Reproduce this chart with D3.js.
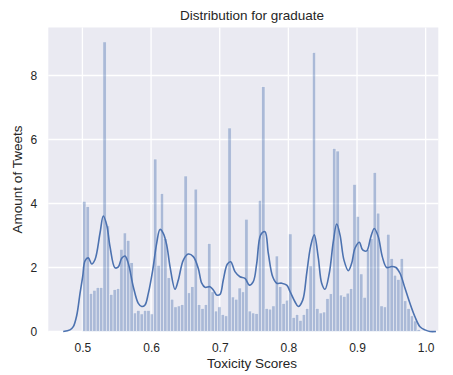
<!DOCTYPE html>
<html>
<head>
<meta charset="utf-8">
<script src="https://cdn.jsdelivr.net/npm/d3@7"></script>
<style>
  body { margin: 0; background: #fff; }
  text { font-family: "Liberation Sans", Arial, sans-serif; fill: #262626; }
</style>
</head>
<body>
<svg id="chart" width="453" height="375"></svg>
<script>
// histogram: 100 bins starting at binStart, each binWidth wide
var binStart = 0.5003;
var binWidth = 0.00492;
var binHeights = [
  4.07, 3.9, 1.19, 1.29, 1.375, 1.375, 9.05, 3.3, 1.16, 1.31,
  1.34, 2.57, 3.08, 2.85, 2.15, 0.58, 0.66, 0.55, 0.66, 0.66,
  0.55, 5.39, 2.07, 4.31, 2.9, 1.68, 1.01, 0.77, 0.8, 0.84,
  4.86, 1.21, 1.4, 4.45, 0.84, 0.72, 0.84, 2.75, 1.24, 0.64,
  0.77, 0.53, 0.49, 6.36, 1.08, 1.01, 1.36, 1.24, 3.51, 0.64,
  0.58, 0.56, 4.1, 7.65, 0.72, 0.7, 0.8, 2.36, 1.4, 0.875,
  0.98, 3.05, 0.44, 0.53, 0.35, 0.53, 0.72, 2.05, 8.72, 0.72,
  0.58, 0.61, 1.03, 1.18, 5.72, 5.64, 1.14, 1.1, 1.2, 1.34,
  4.6, 3.6, 1.8, 1.07, 2.56, 2.9, 4.97, 3.7, 0.8, 0.77,
  3.04, 2.28, 1.76, 1.63, 2.28, 0.96, 0.72, 0.49, 0.33, 0.06
];

// kde curve
var kdeX = [
  0.472, 0.4819, 0.4867, 0.4917, 0.4965, 0.5004, 0.5038, 0.5086, 0.5135, 0.5184,
  0.5256, 0.5304, 0.5354, 0.5402, 0.5475, 0.5523, 0.5572, 0.562, 0.5668, 0.5741,
  0.5814, 0.5864, 0.5912, 0.596, 0.6024, 0.6082, 0.613, 0.6178, 0.6228, 0.6276,
  0.6349, 0.6397, 0.647, 0.6542, 0.6615, 0.6688, 0.6738, 0.6786, 0.6858, 0.6907,
  0.6956, 0.7004, 0.7052, 0.711, 0.716, 0.7222, 0.7295, 0.7368, 0.7431, 0.7489,
  0.7539, 0.7597, 0.7659, 0.7708, 0.7772, 0.783, 0.7903, 0.7976, 0.8024, 0.8096,
  0.8144, 0.8209, 0.8267, 0.8325, 0.8377, 0.8436, 0.8485, 0.8533, 0.8596, 0.8654,
  0.8704, 0.8752, 0.881, 0.8873, 0.8922, 0.897, 0.9033, 0.9082, 0.9141, 0.9199,
  0.9251, 0.931, 0.9368, 0.9432, 0.9505, 0.9567, 0.9626, 0.9699, 0.9771, 0.9844,
  0.9917, 0.999, 1.0063, 1.015
];
var kdeY = [
  0.0, 0.05, 0.15, 0.5, 1.19, 1.72, 2.21, 2.3, 2.11, 2.25,
  3.07, 3.61, 3.33, 2.65, 1.99, 2.02, 2.29, 2.36, 2.13, 1.4,
  0.88, 0.78, 0.83, 1.19, 1.92, 2.76, 3.19, 3.07, 2.7, 2.03,
  1.32, 1.61, 2.23, 2.42, 2.34, 1.97, 1.51, 1.38, 1.4, 1.3,
  1.14, 1.16, 1.61, 2.1, 2.18, 1.87, 1.71, 1.66, 1.45, 1.56,
  2.13, 3.02, 3.12, 2.44, 1.71, 1.51, 1.51, 1.45, 1.25, 0.93,
  0.78, 0.98, 1.82, 2.67, 3.02, 2.3, 1.51, 1.32, 1.82, 2.8,
  3.36, 3.02, 2.23, 1.9, 2.13, 2.6, 2.79, 2.55, 2.52, 2.94,
  3.22, 2.96, 2.34, 2.0, 2.03, 2.0, 1.82, 1.35, 0.88, 0.46,
  0.15, 0.05, 0.0, 0.0
];

var xTicks = [0.5, 0.6, 0.7, 0.8, 0.9, 1.0];
var yTicks = [0, 2, 4, 6, 8];

var svg = d3.select("#chart"),
  plotLeft = 48.3,
  plotRight = 438.3,
  plotTop = 27.5,
  plotBottom = 331.5,
  blue = "#4C72B0";

var x = d3.scaleLinear().domain([0.4503, 1.0184]).range([plotLeft, plotRight]);
var y = d3.scaleLinear().domain([0, 9.5]).range([plotBottom, plotTop]);

// seaborn darkgrid background
svg.append("rect")
  .attr("x", plotLeft)
  .attr("y", plotTop)
  .attr("width", plotRight - plotLeft)
  .attr("height", plotBottom - plotTop)
  .attr("fill", "#EAEAF2");

// grid lines
svg.append("g")
  .selectAll("line")
  .data(xTicks)
  .enter()
  .append("line")
  .attr("x1", (d) => x(d))
  .attr("x2", (d) => x(d))
  .attr("y1", plotTop)
  .attr("y2", plotBottom)
  .attr("stroke", "#fff")
  .attr("stroke-width", 1.3);

svg.append("g")
  .selectAll("line")
  .data(yTicks)
  .enter()
  .append("line")
  .attr("x1", plotLeft)
  .attr("x2", plotRight)
  .attr("y1", (d) => y(d))
  .attr("y2", (d) => y(d))
  .attr("stroke", "#fff")
  .attr("stroke-width", 1.3);

// histogram bars
var bins = binHeights.map(function (h, i) {
  return { x0: binStart + i * binWidth, x1: binStart + (i + 1) * binWidth, h: h };
});

svg.append("g")
  .selectAll("rect")
  .data(bins)
  .enter()
  .append("rect")
  .attr("x", (d) => x(d.x0))
  .attr("y", (d) => y(d.h))
  .attr("width", (d) => x(d.x1) - x(d.x0))
  .attr("height", (d) => y(0) - y(d.h))
  .attr("fill", blue)
  .attr("stroke", "#fff")
  .attr("stroke-width", 0.6)
  .style("opacity", 0.4);

// kde line
var kde = kdeX.map((d, i) => [d, kdeY[i]]);

svg.append("path")
  .datum(kde)
  .attr("fill", "none")
  .attr("stroke", blue)
  .attr("stroke-width", 1.6)
  .attr("d", d3.line()
    .x((d) => x(d[0]))
    .y((d) => y(d[1]))
    .curve(d3.curveCatmullRom));

// axes (no lines, just labels like seaborn)
var xAxis = svg.append("g")
  .attr("transform", "translate(0," + plotBottom + ")")
  .call(d3.axisBottom(x).tickValues(xTicks).tickFormat(d3.format(".1f")).tickSize(0).tickPadding(12));
xAxis.select(".domain").remove();
xAxis.selectAll("text").style("font-size", "12px").attr("fill", "#262626");

var yAxis = svg.append("g")
  .attr("transform", "translate(" + plotLeft + ",0)")
  .call(d3.axisLeft(y).tickValues(yTicks).tickFormat(d3.format("d")).tickSize(0).tickPadding(11));
yAxis.select(".domain").remove();
yAxis.selectAll("text").style("font-size", "12px").attr("fill", "#262626");

// titles
svg.append("text")
  .attr("x", 252)
  .attr("y", 19.5)
  .style("text-anchor", "middle")
  .style("font-size", "13.5px")
  .text("Distribution for graduate");

svg.append("text")
  .attr("x", 252)
  .attr("y", 368)
  .style("text-anchor", "middle")
  .style("font-size", "13.5px")
  .text("Toxicity Scores");

svg.append("text")
  .attr("transform", "translate(22," + (plotTop + plotBottom) / 2 + ") rotate(-90)")
  .style("text-anchor", "middle")
  .style("font-size", "13.5px")
  .text("Amount of Tweets");
</script>
</body>
</html>
